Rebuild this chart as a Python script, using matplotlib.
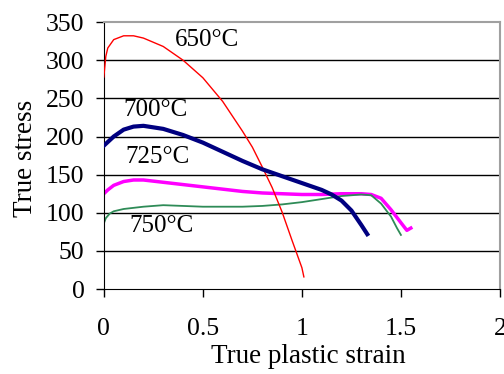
import matplotlib
matplotlib.use("Agg")
import matplotlib.pyplot as plt

# 650°C
x650 = [0, 0.01, 0.02, 0.05, 0.1, 0.15, 0.2, 0.3, 0.4, 0.5, 0.6, 0.7, 0.75, 0.8, 0.85, 0.9, 0.95, 1.0, 1.01]
y650 = [278, 305, 316, 327, 332, 332, 329, 318, 300, 277, 246, 207, 186, 160, 133, 101, 64, 28, 16]
# 700°C
x700 = [0, 0.05, 0.1, 0.15, 0.2, 0.3, 0.4, 0.5, 0.6, 0.7, 0.8, 0.9, 1.0, 1.1, 1.15, 1.2, 1.25, 1.3, 1.33]
y700 = [188, 200, 209, 213, 214, 210, 202, 192, 180, 168, 157, 148, 139, 130, 124, 116, 103, 84, 72]
# 725°C
x725 = [0, 0.02, 0.05, 0.1, 0.15, 0.2, 0.3, 0.4, 0.5, 0.6, 0.7, 0.8, 0.9, 1.0, 1.1, 1.2, 1.3, 1.35, 1.4, 1.45, 1.5, 1.53, 1.55]
y725 = [125, 130, 136, 141, 143, 143, 140, 137, 134, 131, 128, 126, 125, 124, 124, 125, 125, 124, 119, 104, 87, 77, 80]
# 750°C
x750 = [0, 0.01, 0.03, 0.05, 0.1, 0.2, 0.3, 0.4, 0.5, 0.6, 0.7, 0.8, 0.9, 1.0, 1.1, 1.2, 1.3, 1.35, 1.4, 1.45, 1.48, 1.5]
y750 = [86, 93, 99, 102, 105, 108, 110, 109, 108, 108, 108, 109, 111, 114, 118, 122, 124, 123, 112, 95, 80, 71]

labels = ["650°C", "700°C", "725°C", "750°C"]
label_pos = [(0.52, 327), (0.26, 235), (0.27, 173), (0.29, 83)]

xticks = [0, 0.5, 1, 1.5, 2]
xticklabels = ["0", "0.5", "1", "1.5", "2"]
yticks = [0, 50, 100, 150, 200, 250, 300, 350]

plt.rcParams['font.family'] = ['Liberation Serif', 'DejaVu Serif']

fig = plt.figure(figsize=(5.04, 3.74), dpi=100)
ax = fig.add_axes([0.206, 0.227, 0.786, 0.714])

for yv in yticks[1:-1]:
    ax.axhline(yv, color='black', lw=1.0, zorder=1)

ax.plot(x650, y650, color='#ff0000', lw=1.0, zorder=3)
ax.plot(x700, y700, color='#000080', lw=3.0, zorder=3)
ax.plot(x725, y725, color='#ff00ff', lw=2.5, zorder=2)
ax.plot(x750, y750, color='#2e8b57', lw=1.3, zorder=2)

for t, (px, py) in zip(labels, label_pos):
    ax.text(px, py, t, fontsize=18, ha='center', va='center', zorder=4)

ax.set_xlim(0, 2)
ax.set_ylim(0, 350)
ax.set_xticks(xticks)
ax.set_xticklabels(xticklabels)
ax.set_yticks(yticks)
for s in ['top', 'right']:
    ax.spines[s].set_color('#a0a0a0')
    ax.spines[s].set_linewidth(1.5)
ax.spines['left'].set_color('black')
ax.spines['bottom'].set_color('black')
ax.tick_params(axis='x', direction='out', length=6, width=1, pad=15, labelsize=18.5)
ax.tick_params(axis='y', direction='out', length=6, width=1, pad=8, labelsize=18.5)
ax.set_xlabel("True plastic strain", fontsize=19.5)
ax.set_ylabel("True stress", fontsize=19.5)
ax.xaxis.set_label_coords(0.515, -0.206)
ax.yaxis.set_label_coords(-0.167, 0.489)

fig.savefig("out.png", dpi=100)
